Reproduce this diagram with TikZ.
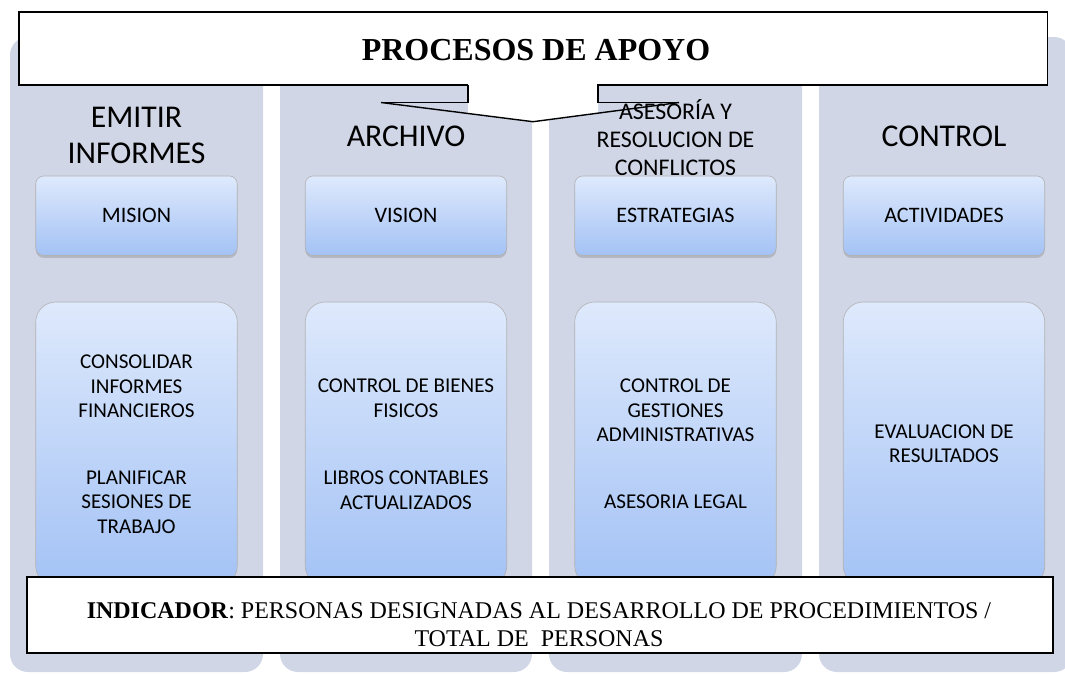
\documentclass[tikz,border=0pt]{standalone}
\usepackage{fontspec}
\setmainfont{Liberation Serif}
\newfontfamily\calfont{Carlito}
\usetikzlibrary{shadows}
\definecolor{colgray}{RGB}{208,214,230}
\definecolor{btop}{RGB}{222,233,252}
\definecolor{bbot}{RGB}{163,194,245}
\begin{document}
\begin{tikzpicture}[x=1pt,y=-1pt,
  col/.style={fill=colgray, rounded corners=18pt},
  topbox/.style={draw=black!30, line width=0.6pt, rounded corners=8pt,
    top color=btop, bottom color=bbot, minimum width=201.5pt, minimum height=79.5pt,
    inner sep=0pt, drop shadow={shadow xshift=0pt, shadow yshift=-2.5pt, opacity=0.35},
    font=\calfont\fontsize{22.1}{26}\selectfont},
  lowbox/.style={draw=black!30, line width=0.6pt, rounded corners=20pt,
    top color=btop, bottom color=bbot, minimum width=201.5pt, minimum height=284pt,
    inner sep=0pt},
  head/.style={inner sep=0pt, align=center, font=\calfont\fontsize{31.7}{36}\selectfont},
  lowtxt/.style={inner sep=0pt, align=center, font=\calfont\fontsize{21.1}{24.7}\selectfont},
  callline/.style={draw=black, line width=1.8pt, line join=miter},
]
\useasboundingbox (0,0) rectangle (1065,673);
% columns
\path[col] (10,37) rectangle (263,672);
\path[col] (280,37) rectangle (532,672);
\path[col] (549,37) rectangle (802,672);
\path[col] (819,37) rectangle (1072,672);
% column headers
\node[head] (h1) at (136.5,135) {EMITIR\\INFORMES};
\node[head] (h2) at (406,136) {ARCHIVO};
\node[head, font=\calfont\fontsize{23.9}{27.7}\selectfont] (h3) at (675.5,137.5) {ASESORÍA Y\\RESOLUCION DE\\CONFLICTOS};
\node[head] (h4) at (944,136) {CONTROL};
% top boxes
\node[topbox] (b1) at (136.5,215.7) {MISION};
\node[topbox] (b2) at (406,215.7) {VISION};
\node[topbox] (b3) at (675.5,215.7) {ESTRATEGIAS};
\node[topbox] (b4) at (944,215.7) {ACTIVIDADES};
% lower boxes
\node[lowbox] (l1) at (136.5,444) {};
\node[lowbox] (l2) at (406,444) {};
\node[lowbox] (l3) at (675.5,444) {};
\node[lowbox] (l4) at (944,444) {};
\node[lowtxt] (t1a) at (136.5,386.5) {CONSOLIDAR\\INFORMES\\FINANCIEROS};
\node[lowtxt] (t1b) at (136.5,502) {PLANIFICAR\\SESIONES DE\\TRABAJO};
\node[lowtxt] (t2a) at (406,398.5) {CONTROL DE BIENES\\FISICOS};
\node[lowtxt] (t2b) at (406,490) {LIBROS CONTABLES\\ACTUALIZADOS};
\node[lowtxt] (t3a) at (675.5,410.5) {CONTROL DE\\GESTIONES\\ADMINISTRATIVAS};
\node[lowtxt] (t3b) at (675.5,502) {ASESORIA LEGAL};
\node[lowtxt] (t4a) at (944,443.7) {EVALUACION DE\\RESULTADOS};
% callout
\fill[white] (19,12) rectangle (1047.5,85);
\fill[white] (468,85) -- (468,113.5) -- (533,121.7) -- (598,113.2) -- (598,85) -- cycle;
\draw[callline] (468,85) -- (19,85) -- (19,12) -- (1047.5,12) -- (1047.5,85) -- (598,85) -- (598,102.5) -- (679,102.5);
\draw[callline] (468,85) -- (468,102.5) -- (381,102.5);
\draw[draw=black, line width=1.4pt] (381,102.5) -- (533,121.7) -- (679,102.5);
\node[inner sep=0pt, font=\bfseries\fontsize{32}{38}\selectfont] (title) at (536,50) {PROCESOS DE APOYO};
% indicator
\node[draw=black, line width=1.8pt, fill=white, minimum width=1026pt, minimum height=76pt, inner sep=0pt] (ind) at (540,615) {};
\node[inner sep=0pt, align=center, font=\fontsize{24}{28.4}\selectfont] (indtext) at (539,624.8)
  {\textbf{INDICADOR}: PERSONAS DESIGNADAS AL DESARROLLO DE PROCEDIMIENTOS /\\TOTAL DE~~PERSONAS};
\end{tikzpicture}
\end{document}
